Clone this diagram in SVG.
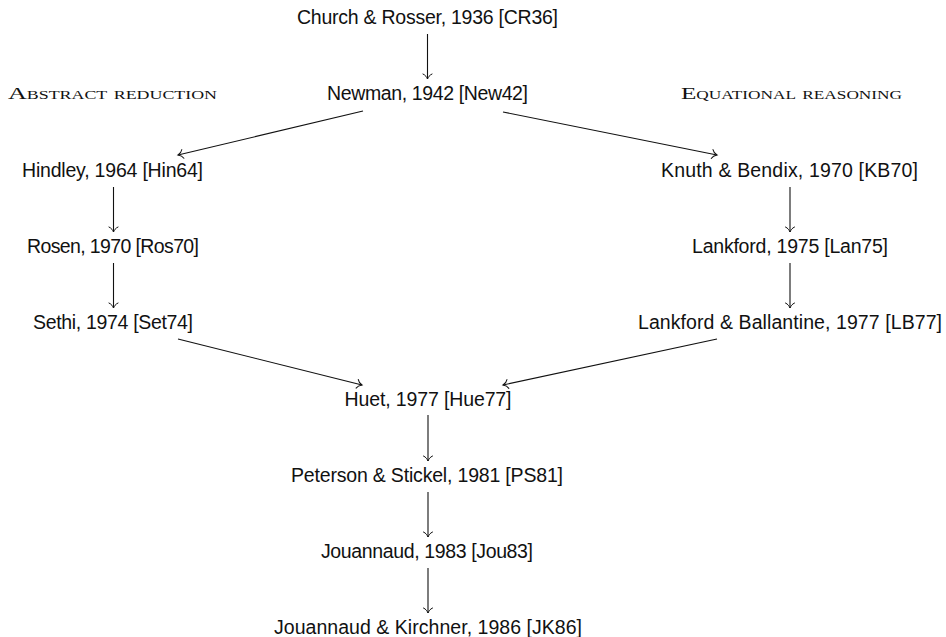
<svg xmlns="http://www.w3.org/2000/svg" width="946" height="637" viewBox="0 0 946 637">
<style>
.n{font-family:"Liberation Sans",Arial,sans-serif;font-size:19.5px;fill:#111;text-anchor:middle}
.sc{font-family:"Liberation Serif","Times New Roman",serif;font-size:17.5px;fill:#111;font-variant:small-caps}
.e{stroke:#111;stroke-width:1.1;fill:none}
</style>
<defs>
<marker id="to" markerUnits="userSpaceOnUse" viewBox="-7 -6 9 12" refX="0" refY="0" markerWidth="9" markerHeight="12" orient="auto" overflow="visible">
<path d="M -5,-4.5 C -4,-2 -1.5,-0.6 0,0 C -1.5,0.6 -4,2 -5,4.5" stroke="#111" stroke-width="1" fill="none" stroke-linecap="round"/>
</marker>
</defs>
<g id="labels">
<text class="sc" x="8" y="99" textLength="209" lengthAdjust="spacingAndGlyphs">Abstract reduction</text>
<text class="sc" x="681" y="99" textLength="221" lengthAdjust="spacingAndGlyphs">Equational reasoning</text>
</g>
<g id="CR36"><text class="n" x="427.5" y="24" textLength="261">Church &amp; Rosser, 1936 [CR36]</text></g>
<g id="New42"><text class="n" x="427.5" y="100" textLength="201">Newman, 1942 [New42]</text></g>
<g id="Hin64"><text class="n" x="112.5" y="176.5" textLength="181">Hindley, 1964 [Hin64]</text></g>
<g id="Ros70"><text class="n" x="113" y="252.5" textLength="172">Rosen, 1970 [Ros70]</text></g>
<g id="Set74"><text class="n" x="113" y="329" textLength="160">Sethi, 1974 [Set74]</text></g>
<g id="KB70"><text class="n" x="789.5" y="176.5" textLength="257">Knuth &amp; Bendix, 1970 [KB70]</text></g>
<g id="Lan75"><text class="n" x="790" y="252.5" textLength="196">Lankford, 1975 [Lan75]</text></g>
<g id="LB77"><text class="n" x="790" y="329" textLength="304">Lankford &amp; Ballantine, 1977 [LB77]</text></g>
<g id="Hue77"><text class="n" x="428" y="405.5" textLength="167">Huet, 1977 [Hue77]</text></g>
<g id="PS81"><text class="n" x="427" y="481.5" textLength="272">Peterson &amp; Stickel, 1981 [PS81]</text></g>
<g id="Jou83"><text class="n" x="427" y="558" textLength="212">Jouannaud, 1983 [Jou83]</text></g>
<g id="JK86"><text class="n" x="428" y="633.5" textLength="308">Jouannaud &amp; Kirchner, 1986 [JK86]</text></g>
<g id="connectors" class="e">
<path class="e" d="M427.5,34 L427.5,79" marker-end="url(#to)"/>
<path class="e" d="M363,111 L178,155" marker-end="url(#to)"/>
<path class="e" d="M503,112 L717,155" marker-end="url(#to)"/>
<path class="e" d="M113.5,187 L113.5,232" marker-end="url(#to)"/>
<path class="e" d="M113.5,263 L113.5,308" marker-end="url(#to)"/>
<path class="e" d="M790,187 L790,232" marker-end="url(#to)"/>
<path class="e" d="M790,263 L790,308" marker-end="url(#to)"/>
<path class="e" d="M178,339 L362,385" marker-end="url(#to)"/>
<path class="e" d="M717,339 L503,385" marker-end="url(#to)"/>
<path class="e" d="M428,415 L428,461" marker-end="url(#to)"/>
<path class="e" d="M428,492 L428,537" marker-end="url(#to)"/>
<path class="e" d="M428,568 L428,613" marker-end="url(#to)"/>
</g>
</svg>
